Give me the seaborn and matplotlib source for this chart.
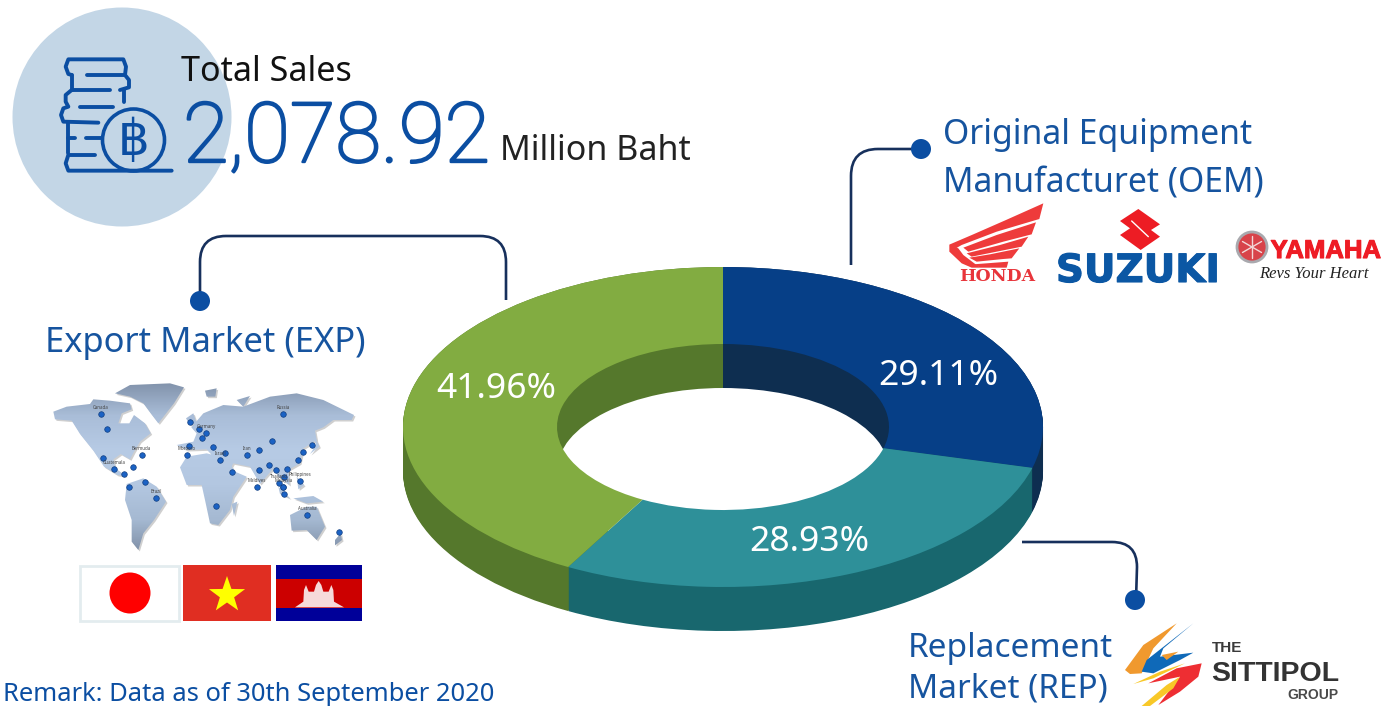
import numpy as np
import matplotlib
matplotlib.use('Agg')
import matplotlib.pyplot as plt
import matplotlib.path as mpath
import matplotlib.patheffects as pe
from matplotlib.colors import LinearSegmentedColormap
from matplotlib.patches import Circle, Polygon, PathPatch, Rectangle
import seaborn as sns

# Sales split, clockwise from 12 o'clock
segments = ['OEM', 'REP', 'EXP']
shares = [29.11, 28.93, 41.96]
top_colors = ['#063F87', '#2E9099', '#82AC41']
side_colors = ['#0E2E50', '#18676E', '#55782C']

total_sales = '2,078.92'

# Customers pinned on the map
pin_names = ['Canada', 'USA', 'Mexico', 'Guatemala', 'Honduras', 'Dominican Rep', 'Bermuda', 'Venezuela',
             'Colombia', 'Brazil', 'England', 'Netherlands', 'Germany', 'Switzerland', 'Portugal', 'Morocco',
             'Greece', 'Lebanon', 'Israel', 'Yemen', 'South Africa', 'Iran', 'Nepal', 'India', 'Maldives',
             'Bangladesh', 'Myanmar', 'Thailand', 'Vietnam', 'Cambodia', 'Malaysia', 'Singapore', 'Indonesia',
             'Philippines', 'Taiwan', 'China', 'Russia', 'South Korea', 'Japan', 'Australia', 'New Zealand']
pin_x = [212, 230, 219, 252, 283, 310, 335, 344, 297, 378, 481, 507, 529, 515, 477, 470, 550, 586, 571, 607,
         557, 651, 687, 687, 680, 717, 738, 746, 770, 763, 760, 760, 763, 811, 803, 726, 760, 818, 847, 832, 927]
pin_y = [132, 176, 263, 296, 311, 292, 254, 337, 350, 384, 155, 176, 190, 205, 227, 256, 231, 248, 270, 306,
         408, 256, 240, 299, 350, 284, 299, 339, 298, 320, 350, 350, 372, 333, 270, 212, 132, 245, 226, 436, 487]

# Map outlines, in the units of a 3x crop starting at (30, 370)
continents = [
    [(70, 125), (110, 110), (180, 102), (190, 88), (240, 92), (300, 100), (305, 118), (275, 130), (265, 160),
     (298, 160), (312, 135), (345, 160), (362, 190), (330, 215), (312, 245), (300, 268), (272, 252), (250, 268),
     (256, 295), (288, 318), (262, 315), (222, 290), (190, 242), (150, 192), (125, 152), (75, 148)],
    [(255, 70), (300, 45), (420, 40), (462, 52), (432, 100), (385, 160), (362, 130), (340, 100), (300, 80)],
    [(290, 342), (340, 325), (380, 350), (408, 395), (372, 450), (340, 490), (325, 540), (305, 515), (305, 450),
     (285, 390)],
    [(450, 292), (470, 260), (530, 250), (590, 265), (615, 305), (650, 320), (610, 380), (600, 420), (565, 465),
     (540, 460), (525, 390), (515, 345), (470, 345)],
    [(440, 225), (490, 215), (500, 190), (484, 172), (520, 130), (580, 105), (640, 110), (720, 80), (800, 70),
     (880, 90), (972, 135), (965, 150), (910, 150), (880, 172), (855, 182), (860, 210), (820, 235), (810, 280),
     (775, 300), (778, 345), (745, 320), (730, 295), (690, 342), (660, 290), (610, 280), (592, 312), (555, 265),
     (530, 238), (470, 240)],
    [(468, 145), (490, 130), (500, 160), (480, 165)],
    [(525, 62), (560, 55), (556, 80), (530, 80)],
    [(620, 90), (660, 78), (640, 110)],
    [(850, 190), (868, 230), (840, 252), (858, 225)],
    [(605, 402), (622, 395), (612, 438)],
    [(780, 435), (830, 410), (860, 410), (885, 470), (860, 510), (830, 480), (785, 482)],
    [(915, 510), (932, 490), (936, 510), (915, 526)],
    [(745, 350), (780, 385), (750, 372)],
    [(790, 385), (850, 378), (880, 395), (830, 400)],
    [(800, 320), (822, 345), (805, 358)],
]

sns.set_theme(style='white')
plt.rcParams['font.family'] = ['Noto Sans', 'DejaVu Sans']

BLUE = '#0B4EA2'
TEXT_BLUE = '#16549F'
NAVY = '#17305C'

fig = plt.figure(figsize=(13.94, 7.06), dpi=100, facecolor='white')

# Donut: flattened pies, the wall is a stack of them going down
ax = fig.add_axes([0, 0, 1, 1])
CX, CY, RX, RY = 723, 427, 320, 160
DEPTH = 44 / RY
R_IN = 166 / RX


def draw_pie(colors, radius, offset=0.0, **wedge_kw):
    ax.pie(shares, colors=colors, radius=radius, center=(0, offset), startangle=90,
           counterclock=False, wedgeprops={'linewidth': 0, **wedge_kw})


for off in np.linspace(DEPTH, 0, 45):
    draw_pie(side_colors, 1, -off)
# inner wall, then the opening at the bottom, then the ring hides what spills out
draw_pie(side_colors, R_IN)
ax.pie([1], colors=['white'], radius=R_IN, center=(0, -DEPTH), wedgeprops={'linewidth': 0})
draw_pie(top_colors, 1, width=1 - R_IN)

ax.set_aspect('auto')
ax.set_xlim(-CX / RX, (1394 - CX) / RX)
ax.set_ylim((CY - 706) / RY, CY / RY)
ax.axis('off')

# Everything else is placed in picture pixels
ov = fig.add_axes([0, 0, 1, 1], zorder=5)
ov.patch.set_alpha(0)
ov.axis('off')


def z_map(pts):
    return [(30 + x / 3, 370 + y / 3) for x, y in pts]


def z_icon(pts):
    return [(x / 3, y / 3) for x, y in pts]


def z_oem(pts):
    return [(930 + x / 3, 195 + y / 3) for x, y in pts]


def z_rep(pts):
    return [(1110 + x / 3, 610 + y / 3) for x, y in pts]


def poly(pts, color, **kw):
    ov.add_patch(Polygon(pts, closed=True, facecolor=color, edgecolor='none', **kw))


def stroke(pts, color=BLUE, lw=2.3):
    xs, ys = zip(*pts)
    ov.plot(xs, ys, color=color, lw=lw, solid_capstyle='round', solid_joinstyle='round')


# Header
ov.add_patch(Circle((122, 117), 109.5, facecolor='#C3D6E6', edgecolor='none'))
icon_lines = [
    [(215, 225), (205, 222), (197, 200), (205, 178), (370, 178), (378, 200), (375, 225), (387, 240), (387, 262), (360, 270)],
    [(215, 225), (215, 270)],
    [(260, 225), (375, 225)],
    [(215, 270), (330, 270)],
    [(373, 270), (373, 305)],
    [(215, 270), (197, 285), (197, 305), (205, 320), (190, 325), (183, 345), (190, 365), (295, 368)],
    [(240, 320), (340, 320)],
    [(205, 370), (205, 460)],
    [(205, 415), (225, 415)],
    [(258, 415), (305, 415)],
    [(285, 465), (205, 465), (197, 490), (205, 512), (515, 512)],
]
for line in icon_lines:
    stroke(z_icon(line), lw=2.8)
ov.add_patch(Circle((133.5, 140), 31, facecolor='none', edgecolor=BLUE, lw=2.6))
ov.text(134, 141, '\u0e3f', color=BLUE, fontsize=36, ha='center', va='center', family=['DejaVu Sans'])

ov.text(181, 81, 'Total Sales', color='#111111', fontsize=24.5)
# the thin cut is too thin on its own, so it gets a stroke
ov.text(183, 162, total_sales, color=BLUE, fontsize=60, family=['Roboto', 'Noto Sans'], fontweight='light',
        path_effects=[pe.withStroke(linewidth=1.7, foreground=BLUE)])
ov.text(500, 160, 'Million Baht', color='#222222', fontsize=24.5)

# Connectors
C3 = mpath.Path.CURVE3
M, L = mpath.Path.MOVETO, mpath.Path.LINETO
connectors = [
    ([(200, 300), (200, 262), (200, 236), (226, 236), (480, 236), (506, 236), (506, 262), (506, 300)],
     [M, L, C3, C3, L, C3, C3, L]),
    ([(921, 149), (878, 149), (851, 149), (851, 176), (851, 265)], [M, L, C3, C3, L]),
    ([(1022, 542), (1112, 542), (1137, 542), (1137, 567), (1136, 600)], [M, L, C3, C3, L]),
]
for verts, codes in connectors:
    ov.add_patch(PathPatch(mpath.Path(verts, codes), facecolor='none', edgecolor=NAVY, lw=1.9))
for x, y in [(921, 149), (200, 301), (1135, 600)]:
    ov.add_patch(Circle((x, y), 10, facecolor=BLUE, edgecolor='none'))

# Segment names and shares
ov.text(943, 144, 'Original Equipment', color=TEXT_BLUE, fontsize=24.3)
ov.text(943, 193, 'Manufacturet (OEM)', color=TEXT_BLUE, fontsize=24.3)
ov.text(45, 352, 'Export Market (EXP)', color=TEXT_BLUE, fontsize=24.9)
ov.text(908, 657, 'Replacement', color=TEXT_BLUE, fontsize=24)
ov.text(908, 698, 'Market (REP)', color=TEXT_BLUE, fontsize=24)
ov.text(3, 701, 'Remark: Data as of 30th September 2020', color=BLUE, fontsize=18.4)

for value, (x, y) in zip(shares, [(938, 385), (809, 551), (496, 398)]):
    ov.text(x, y, f'{value:.2f}%', color='white', fontsize=25.5, ha='center')

# World map
for c in continents:
    poly([(x + 1.5, y + 1.5) for x, y in z_map(c)], '#CFCFCF', zorder=1)
paths = []
for c in continents:
    v = np.array(z_map(c) + z_map(c)[:1])
    paths.append(mpath.Path(v, closed=True))
map_path = mpath.Path.make_compound_path(*paths)
map_cmap = LinearSegmentedColormap.from_list('map', ['#7F90A8', '#A9BDD8', '#B7CBE5', '#B3C7E1', '#A5B9D2', '#7C8CA3'])
im = ov.imshow(np.linspace(0, 1, 200).reshape(-1, 1), extent=(45, 365, 555, 380), aspect='auto', cmap=map_cmap,
               zorder=2)
im.set_clip_path(map_path, transform=ov.transData)

pins = z_map(list(zip(pin_x, pin_y)))
sns.scatterplot(x=[p[0] for p in pins], y=[p[1] for p in pins], ax=ov, s=16, color='#1B62C4', edgecolor='#123F80',
                linewidth=0.5, zorder=4, legend=False)
for name, (x, y) in zip(pin_names[::3], pins[::3]):
    ov.text(x, y - 5, name, fontsize=3.2, color='#444444', ha='center', zorder=4)

# Flags
ov.add_patch(Rectangle((79.5, 566), 99, 55, facecolor='white', edgecolor='#E3ECEF', lw=2))
ov.add_patch(Circle((130, 593), 20.5, facecolor='#FF0000', edgecolor='none'))
ov.add_patch(Rectangle((183, 565), 88, 56, facecolor='#E02E22', edgecolor='none'))
star = []
for i in range(10):
    r = 19 if i % 2 == 0 else 7.5
    a = np.pi / 2 + i * np.pi / 5
    star.append((227 + r * np.cos(a), 595 - r * np.sin(a)))
poly(star, '#FFFF00')
ov.add_patch(Rectangle((276, 565), 86, 56, facecolor='#000099', edgecolor='none'))
ov.add_patch(Rectangle((276, 579), 86, 29, facecolor='#CC0000', edgecolor='none'))
poly(z_map([(795, 712), (820, 695), (822, 660), (828, 645), (836, 665), (852, 665), (858, 645), (866, 633), (874, 645),
            (880, 665), (896, 665), (904, 645), (910, 660), (912, 695), (942, 712)]), '#F6DADA')

# OEM logos
feathers = [
    [(340, 25), (228, 75), (130, 118), (60, 148), (60, 170), (95, 150), (200, 110), (328, 72)],
    [(318, 82), (200, 120), (100, 158), (115, 170), (220, 140), (305, 118)],
    [(295, 125), (210, 150), (110, 175), (125, 185), (225, 165), (275, 155)],
    [(268, 160), (180, 178), (118, 188), (140, 200), (220, 192), (245, 190)],
    [(235, 200), (130, 208), (150, 218), (230, 218)],
    [(58, 148), (58, 170), (95, 205), (125, 218), (150, 218), (100, 180), (85, 160)],
]
for f in feathers:
    poly(z_oem(f), '#EE3B3B')
ov.text(997, 281, 'HONDA', color='#E8353B', fontsize=12.5, fontweight='bold', family=['DejaVu Serif'], ha='center')

poly(z_oem([(570, 78), (625, 42), (690, 88), (663, 105), (690, 125), (632, 165), (570, 120), (600, 100)]), '#ED1C24')
stroke(z_oem([(605, 78), (655, 125)]), color='white', lw=1.0)
ov.text(1138, 282, 'SUZUKI', color='#0B57A4', fontsize=28, fontweight='bold', family=['DejaVu Sans'], ha='center',
        path_effects=[pe.withStroke(linewidth=0.8, foreground='#0B57A4')])

ov.add_patch(Circle((1252, 247), 15, facecolor='#D8434A', edgecolor='#A9A9AE', lw=2))
for ang in [30, 90, 150, 210, 270, 330]:
    a = np.deg2rad(ang)
    stroke([(1252, 247), (1252 + 11 * np.cos(a), 247 - 11 * np.sin(a))], color='#F2D8D8', lw=1.0)
ov.text(1326, 258, 'YAMAHA', color='#EE1C25', fontsize=18.5, fontweight='bold', ha='center',
        family=['Liberation Sans'], path_effects=[pe.withStroke(linewidth=0.8, foreground='#EE1C25')])
ov.text(1314, 278, 'Revs Your Heart', color='#222222', fontsize=12, style='italic', ha='center',
        family=['Liberation Serif'])

# Replacement logo
poly(z_rep([(45, 180), (100, 105), (200, 40), (130, 115), (95, 190), (60, 192)]), '#F0992E')
poly(z_rep([(250, 40), (160, 115), (150, 140), (250, 128), (210, 150), (130, 190), (95, 185), (110, 150)]), '#0F69B8')
poly(z_rep([(155, 135), (205, 125), (170, 150)]), '#F0992E')
poly(z_rep([(70, 222), (150, 185), (225, 160), (130, 205)]), '#F8C828')
poly(z_rep([(115, 220), (200, 175), (275, 160), (265, 200), (210, 245), (145, 285), (210, 200)]), '#EE2E33')
poly(z_rep([(95, 288), (170, 225), (210, 200), (190, 235), (120, 288)]), '#F8C828')
ov.text(1212, 652, 'THE', color='#3A3A3A', fontsize=11, fontweight='bold', family=['Liberation Sans'])
ov.text(1211, 681, 'SITTIPOL', color='#333333', fontsize=20.5, fontweight='bold', family=['Liberation Sans'])
ov.text(1287, 699, 'GROUP', color='#4A4A4A', fontsize=10, fontweight='bold', family=['Liberation Sans'])

ov.set_xlim(0, 1394)
ov.set_ylim(706, 0)

fig.savefig('out.png', dpi=100)
